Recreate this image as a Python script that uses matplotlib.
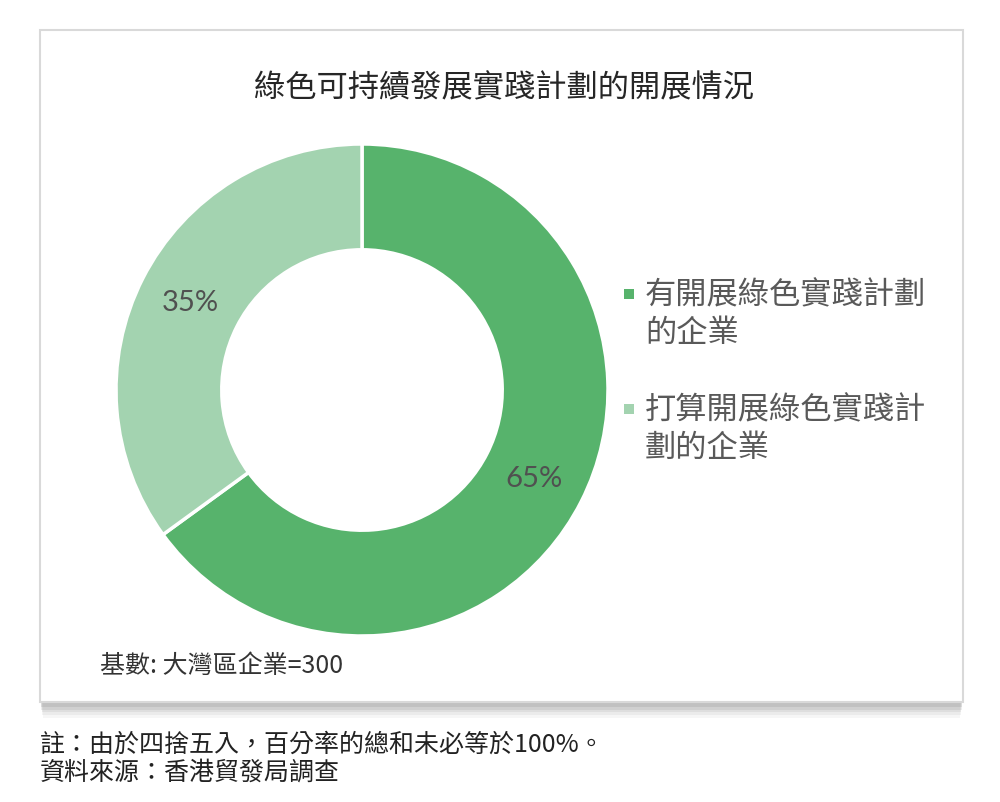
import matplotlib
matplotlib.use("Agg")
import matplotlib.pyplot as plt
from matplotlib.patches import Rectangle

plt.rcParams['font.family'] = ['Noto Sans CJK TC', 'DejaVu Sans']

title = "綠色可持續發展實踐計劃的開展情況"
categories = ["有開展綠色實踐計劃\n的企業", "打算開展綠色實踐計\n劃的企業"]
values = [65, 35]
colors = ["#57b36c", "#a3d3b0"]
base_note = "基數: 大灣區企業=300"
footnotes = ["註：由於四捨五入，百分率的總和未必等於100%。", "資料來源：香港貿發局調查"]

W, H = 1000, 803
fig = plt.figure(figsize=(W / 100, H / 100), dpi=100)
fig.patch.set_facecolor("white")

def fx(px):
    return px / W

def fy(py):
    return 1 - py / H

# box shadow
bx0, by0, bx1, by1 = 40, 31, 963, 703
for i, a in enumerate([0.05, 0.07, 0.09, 0.11, 0.13]):
    off = 16 - i * 2.8
    fig.patches.append(Rectangle((fx(bx0 + 3 - i * 0.6), fy(by1 + off)),
                                 fx(bx1 - bx0 - 6 + i * 1.2), (by1 + off - by0 - 6) / H,
                                 transform=fig.transFigure, facecolor="#606060",
                                 edgecolor="none", alpha=a, zorder=0))
fig.patches.append(Rectangle((fx(bx0), fy(by1)), fx(bx1 - bx0), (by1 - by0) / H,
                             transform=fig.transFigure, facecolor="white",
                             edgecolor="#d9d9d9", linewidth=1.5, zorder=1))

# donut
cx, cy, r = 362, 391, 246
ax = fig.add_axes([fx(cx - r), fy(cy + r), fx(2 * r), 2 * r / H])
ax.set_zorder(2)
wedges, texts, autotexts = ax.pie(
    values, colors=colors, startangle=90, counterclock=False,
    wedgeprops=dict(width=0.43, edgecolor="white", linewidth=2.5),
    autopct=lambda p: f"{p:.0f}%", pctdistance=0.785,
    textprops=dict(fontsize=21, color="#505050",
                   family=["Lato", "DejaVu Sans"]))
ax.set_xlim(-1, 1)
ax.set_ylim(-1, 1)
ax.set_aspect("equal")
ax.axis("off")

# legend (manual, aligned to first line of each label)
leg_y0 = [295, 410]
for cat, col, y0 in zip(categories, colors, leg_y0):
    fig.patches.append(Rectangle((fx(624), fy(y0 + 5)), fx(10), 10 / H,
                                 transform=fig.transFigure, facecolor=col,
                                 edgecolor="none", zorder=3))
    for k, line in enumerate(cat.split("\n")):
        fig.text(fx(645), fy(y0 + k * 38), line, ha="left", va="center",
                 fontsize=22.5, color="#595959", zorder=3)

fig.text(0.504, fy(88), title, ha="center", va="center", fontsize=22.5, color="#262626", zorder=3)
fig.text(fx(100), fy(666), base_note, ha="left", va="center", fontsize=18, color="#333333", zorder=3)
fig.text(fx(40), fy(745), footnotes[0], ha="left", va="center", fontsize=18, color="#222222")
fig.text(fx(40), fy(773), footnotes[1], ha="left", va="center", fontsize=18, color="#222222")

fig.savefig("out.png", dpi=100, facecolor="white")
